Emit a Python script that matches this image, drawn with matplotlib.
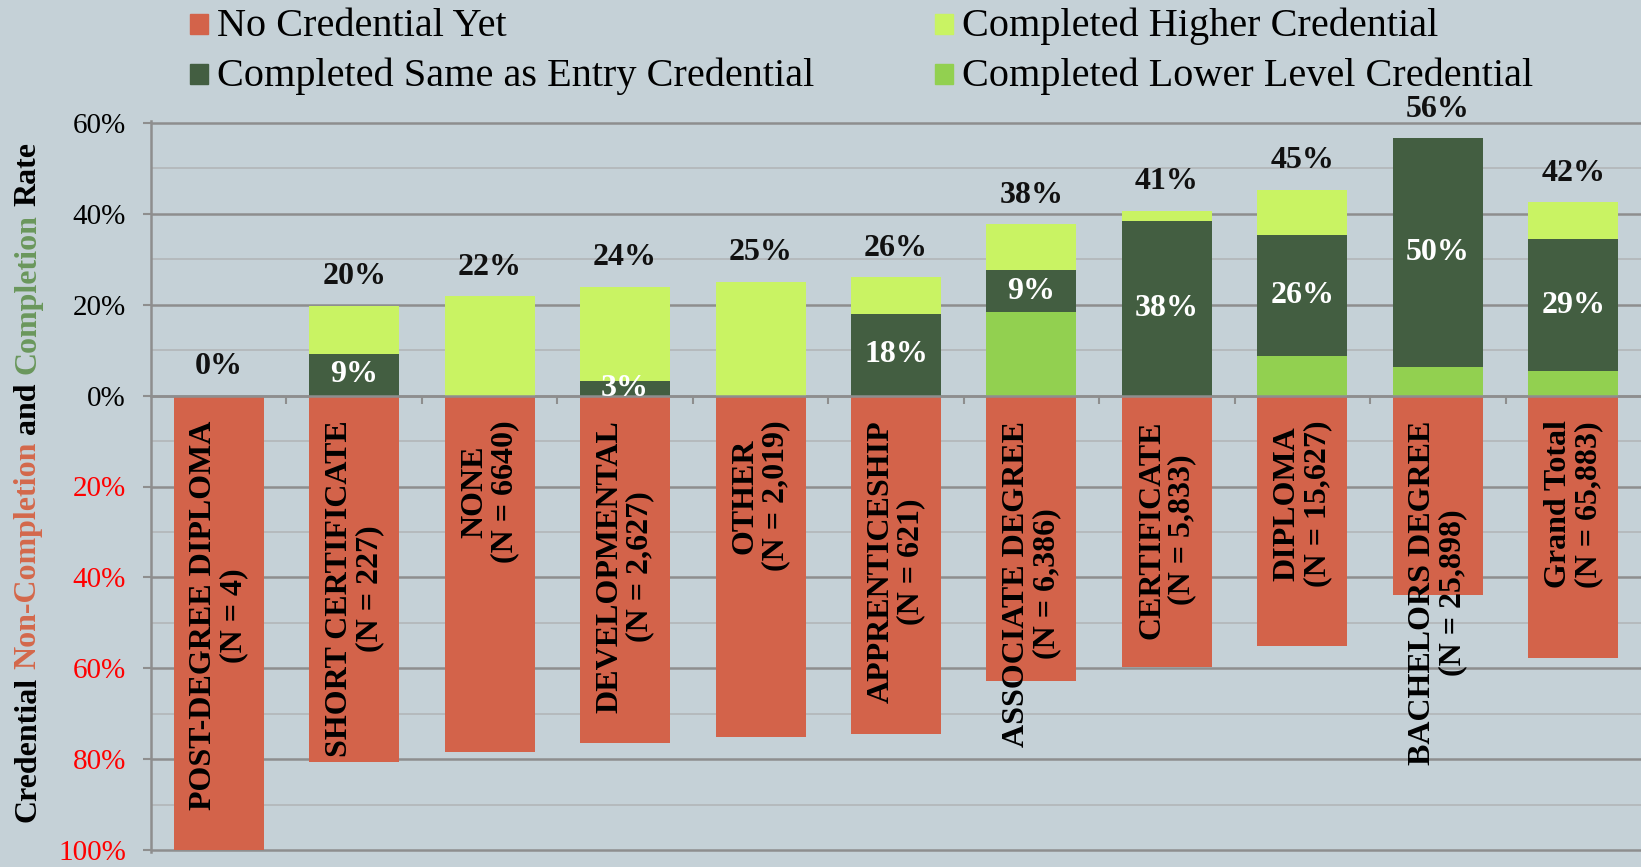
import matplotlib
matplotlib.use('Agg')
import matplotlib.pyplot as plt
import numpy as np
from matplotlib.patches import Rectangle

# data (percent of students)
categories = ["POST-DEGREE DIPLOMA\n(N = 4)", "SHORT CERTIFICATE\n(N = 227)", "NONE\n(N = 6640)",
              "DEVELOPMENTAL\n(N = 2,627)", "OTHER\n(N = 2,019)", "APPRENTICESHIP\n(N = 621)",
              "ASSOCIATE DEGREE\n(N = 6,386)", "CERTIFICATE\n(N = 5,833)", "DIPLOMA\n(N = 15,627)",
              "BACHELORS DEGREE\n(N = 25,898)", "Grand Total\n(N = 65,883)"]
lower = [0, 0, 0, 0, 0, 0, 18.4, 0, 8.7, 6.2, 5.3]
same = [0, 9.2, 0, 3.2, 0, 17.9, 9.2, 38.4, 26.7, 50.4, 29.2]
higher = [0, 10.6, 21.8, 20.7, 25.0, 8.1, 10.1, 2.3, 9.9, 0, 8.0]
no_cred = [100, 80.5, 78.5, 76.4, 75.2, 74.5, 62.7, 59.6, 55.0, 43.9, 57.8]
total_labels = ["0%", "20%", "22%", "24%", "25%", "26%", "38%", "41%", "45%", "56%", "42%"]
same_labels = ["", "9%", "", "3%", "", "18%", "9%", "38%", "26%", "50%", "29%"]
series = ["No Credential Yet", "Completed Same as Entry Credential",
          "Completed Higher Credential", "Completed Lower Level Credential"]

BG = '#c5d1d7'
C_NO = '#d3634a'
C_SAME = '#435e41'
C_HIGH = '#c9f363'
C_LOW = '#92d050'
GRID_MAJ = '#8e8e8e'
GRID_MIN = '#b4b8bb'

plt.rcParams['font.family'] = ['Liberation Serif', 'DejaVu Serif']

W, H = 1641, 867
fig = plt.figure(figsize=(W / 100, H / 100), dpi=100, facecolor=BG)
ax = fig.add_axes([151 / W, 15 / H, (W - 151) / W, (852 - 121) / H])
ax.set_facecolor(BG)

x = np.arange(len(categories))
lower_a = np.array(lower)
same_a = np.array(same)
higher_a = np.array(higher)
bw = 0.665

ax.bar(x, -np.array(no_cred), bw, color=C_NO, zorder=2)
ax.bar(x, lower_a, bw, color=C_LOW, zorder=2)
ax.bar(x, same_a, bw, bottom=lower_a, color=C_SAME, zorder=2)
ax.bar(x, higher_a, bw, bottom=lower_a + same_a, color=C_HIGH, zorder=2)

ax.set_xlim(-0.5, len(categories) - 0.5)
ax.set_ylim(-100.4, 60.4)

# gridlines
for v in range(-90, 60, 20):
    ax.axhline(v, color=GRID_MIN, lw=1.3, zorder=0)
for v in range(-100, 61, 20):
    ax.axhline(v, color=GRID_MAJ, lw=1.8, zorder=1)

ticks = list(range(-100, 61, 20))
ax.set_yticks(ticks)
ax.set_yticklabels([f"{abs(t)}%" for t in ticks], fontsize=21)
for t, lab in zip(ticks, ax.get_yticklabels()):
    lab.set_color('#ff0000' if t < 0 else 'black')
ax.tick_params(axis='y', direction='out', length=6, width=1.5, color=GRID_MAJ, pad=12)

ax.spines['top'].set_visible(False)
ax.spines['right'].set_visible(False)
ax.spines['left'].set_color(GRID_MAJ)
ax.spines['left'].set_linewidth(1.8)
ax.spines['bottom'].set_position(('data', 0))
ax.spines['bottom'].set_color(GRID_MAJ)
ax.spines['bottom'].set_linewidth(1.8)
ax.set_xticks(x[:-1] + 0.5)
ax.set_xticklabels([])
ax.tick_params(axis='x', direction='out', length=6, width=1.5, color=GRID_MAJ)

# labels
tops = lower_a + same_a + higher_a
for i in x:
    ax.annotate(total_labels[i], (i, tops[i]), xytext=(0, 21), textcoords='offset points',
                ha='center', va='center', fontsize=23, fontweight='bold', color='#111111', zorder=5)
    if same_labels[i]:
        ax.text(i, lower_a[i] + same_a[i] / 2, same_labels[i], ha='center', va='center',
                fontsize=23, fontweight='bold', color='white', zorder=5)
    ax.text(i, -5.5, categories[i], rotation=90, ha='center', va='top', multialignment='center',
            fontsize=23, fontweight='bold', color='black', zorder=5, linespacing=1.05)

# legend
leg_pos = [(190, 26), (190, 76), (935, 26), (935, 76)]
leg_cols = [C_NO, C_SAME, C_HIGH, C_LOW]
for name, col, (px, py) in zip(series, leg_cols, leg_pos):
    fig.patches.append(Rectangle((px / W, 1 - (py + 8) / H), 18 / W, 20 / H,
                                 transform=fig.transFigure, color=col))
    fig.text((px + 27) / W, 1 - py / H, name, fontsize=29, va='center', ha='left')

# multicolour y label, pieces stacked upward from the bottom
pieces = [("Credential", 'black'), ("Non-Completion", '#d4684b'), ("and", 'black'),
          ("Completion", '#6a975c'), ("Rate", 'black')]
fig.canvas.draw()
r = fig.canvas.get_renderer()


def text_h(s):
    t = fig.text(0, 0, s, rotation=90, fontsize=23, fontweight='bold')
    h = t.get_window_extent(r).height
    t.remove()
    return h


space = text_h("l l") - text_h("ll")
ypix = H - 822
for s, c in pieces:
    fig.text(28 / W, ypix / H, s, rotation=90, rotation_mode='anchor',
             ha='left', va='center', fontsize=23, fontweight='bold', color=c)
    ypix += text_h(s) + space

fig.savefig('out.png', dpi=100, facecolor=BG)
